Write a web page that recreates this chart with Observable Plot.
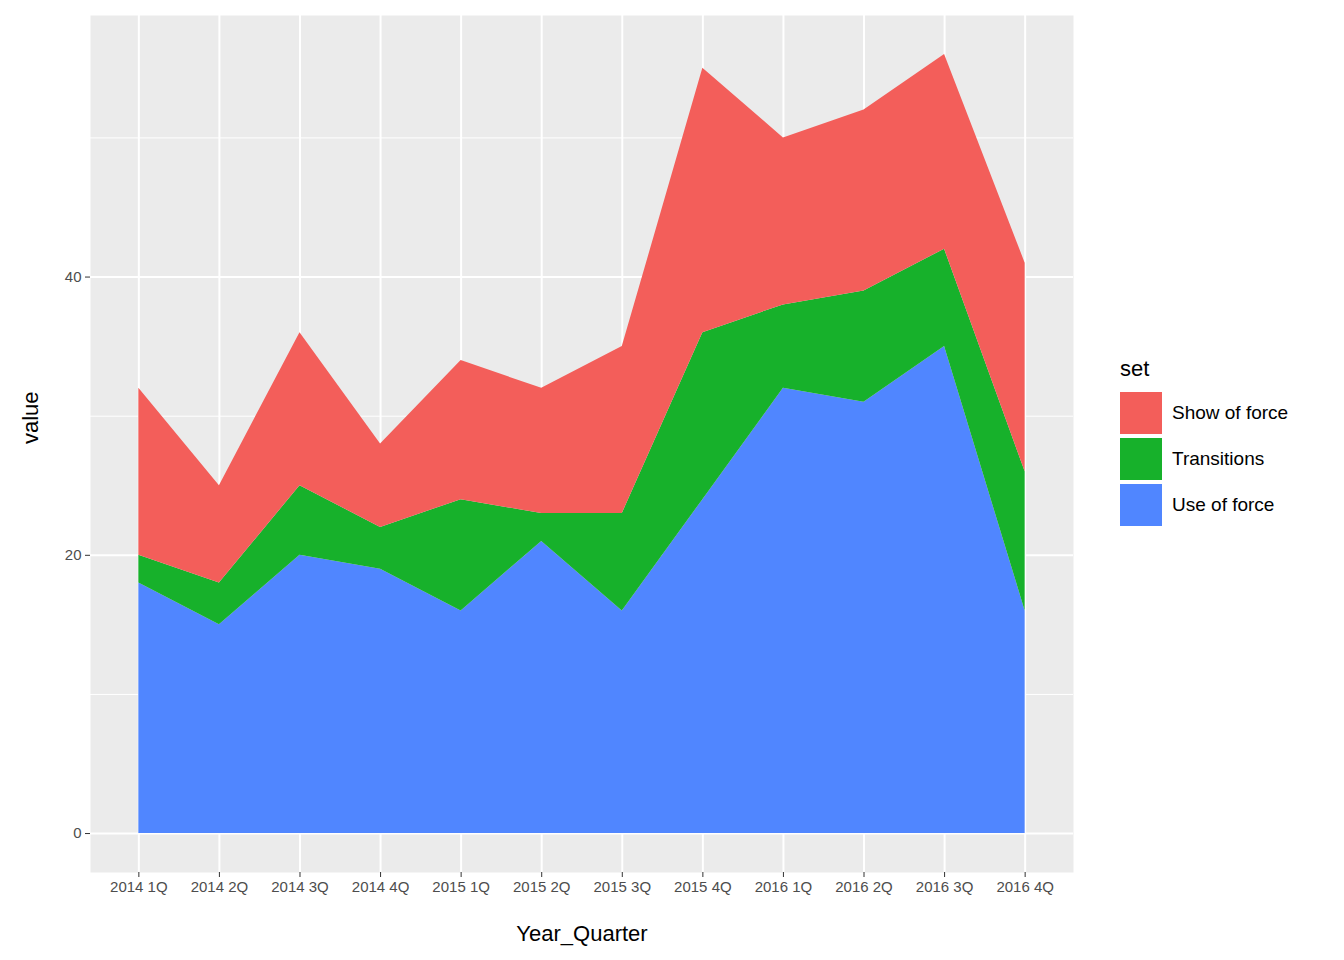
<!DOCTYPE html>
<html>
<head>
<meta charset="utf-8">
<script src="https://cdn.jsdelivr.net/npm/d3@7"></script>
<script src="https://cdn.jsdelivr.net/npm/@observablehq/plot@0.6"></script>
<style>
  body { margin: 0; font-family: "Liberation Sans", Arial, sans-serif; }
  #wrap { position: relative; width: 1344px; height: 960px; }
  #legend { position: absolute; left: 1120px; top: 356px; }
  #legend .title { font-size: 22px; color: #000; margin-bottom: 8px; }
  #legend .row { display: flex; align-items: center; height: 46px; }
  #legend .key { width: 42px; height: 42px; margin-right: 10px; }
  #legend .lab { font-size: 19px; color: #000; }
</style>
</head>
<body>
<div id="wrap"><div id="chart"></div><div id="legend"></div></div>
<script>
const quarters = ["2014 1Q","2014 2Q","2014 3Q","2014 4Q","2015 1Q","2015 2Q","2015 3Q","2015 4Q","2016 1Q","2016 2Q","2016 3Q","2016 4Q"];
const useOfForce = [18,15,20,19,16,21,16,24,32,31,35,16];
const transitions = [2,3,5,3,8,2,7,12,6,8,7,10];
const showOfForce = [12,7,11,6,10,9,12,19,12,13,14,15];
const sets = ["Show of force","Transitions","Use of force"];
const colors = ["#F35E5A","#17B12B","#5086FF"];

const rows = [];
quarters.forEach((q, i) => {
  rows.push({i, set: "Use of force", value: useOfForce[i]});
  rows.push({i, set: "Transitions", value: transitions[i]});
  rows.push({i, set: "Show of force", value: showOfForce[i]});
});

const chart = Plot.plot({
  width: 1344, height: 960,
  marginLeft: 90, marginRight: 271, marginTop: 15, marginBottom: 88,
  style: {fontFamily: "Liberation Sans, Arial, sans-serif", fontSize: "15px", color: "#4d4d4d"},
  x: {domain: [-0.6, quarters.length - 1 + 0.6]},
  y: {domain: [-2.8, 58.8]},
  color: {domain: sets, range: colors},
  marks: [
    Plot.frame({fill: "#EBEBEB", stroke: null}),
    Plot.gridY([10, 30, 50], {stroke: "#fff", strokeOpacity: 1, strokeWidth: 1}),
    Plot.gridY([0, 20, 40], {stroke: "#fff", strokeOpacity: 1, strokeWidth: 2}),
    Plot.gridX(d3.range(quarters.length), {stroke: "#fff", strokeOpacity: 1, strokeWidth: 2}),
    Plot.areaY(rows, Plot.stackY({order: ["Use of force","Transitions","Show of force"]},
      {x: "i", y: "value", z: "set", fill: "set", curve: "linear"})),
    Plot.axisY([0, 20, 40], {tickSize: 5, tickPadding: 4, stroke: "#333", fill: "#4d4d4d", fontSize: 15, label: null}),
    Plot.axisX(d3.range(quarters.length), {tickSize: 5, tickPadding: 4, stroke: "#333", fill: "#4d4d4d", fontSize: 15,
      tickFormat: i => quarters[i], label: null}),
    Plot.text(["value"], {frameAnchor: "left", dx: -60, rotate: -90, fontSize: 22, fill: "#000"}),
    Plot.text(["Year_Quarter"], {frameAnchor: "bottom", dy: 68, fontSize: 22, fill: "#000"})
  ]
});
document.getElementById("chart").append(chart);

const legend = d3.select("#legend");
legend.append("div").attr("class", "title").text("set");
sets.forEach((s, k) => {
  const r = legend.append("div").attr("class", "row");
  r.append("div").attr("class", "key").style("background", colors[k]);
  r.append("div").attr("class", "lab").text(s);
});
</script>
</body>
</html>
